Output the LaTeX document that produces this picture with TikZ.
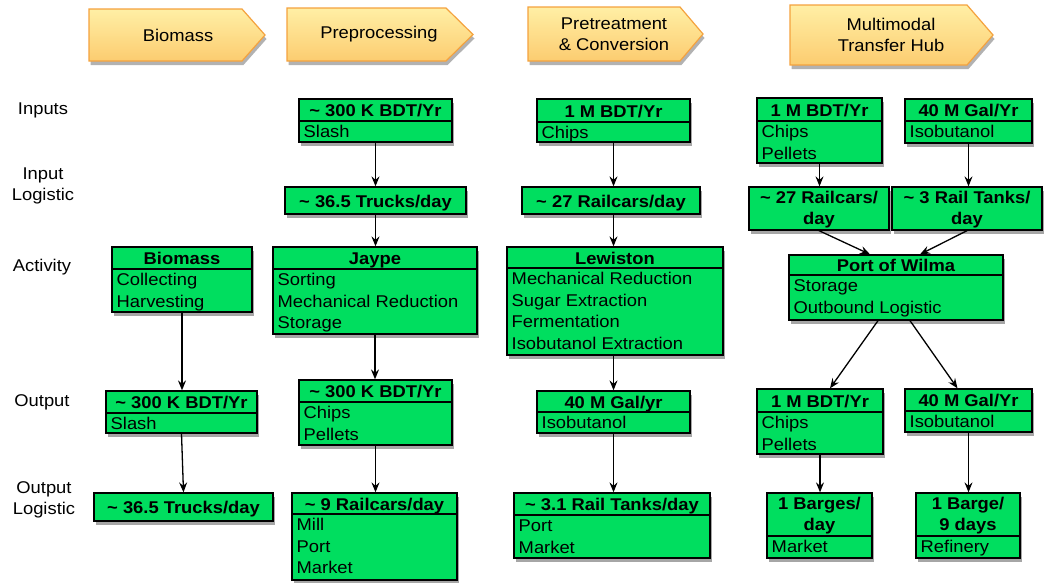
\documentclass[tikz,border=0pt]{standalone}
\usepackage{fontspec}
\setmainfont{Liberation Sans}[FakeStretch=1.08]
\usetikzlibrary{arrows.meta,shadows,fit,calc}
\definecolor{boxgreen}{RGB}{0,222,95}
\definecolor{hdrtop}{RGB}{255,239,165}
\definecolor{hdrbot}{RGB}{252,204,112}
\definecolor{hdrline}{RGB}{244,162,62}
\tikzset{
  boxs/.style={draw=black, line width=1.3pt, fill=boxgreen, inner sep=0pt,
    drop shadow={shadow xshift=1.5pt, shadow yshift=-4pt, opacity=0.35, fill=black}},
  divl/.style={line width=1.3pt},
  hdr/.style={font=\bfseries, inner sep=0pt, anchor=base},
  hdrtwo/.style={font=\bfseries, inner sep=0pt, align=center},
  itm/.style={inner sep=0pt, anchor=north west, align=left},
  lab/.style={inner sep=0pt, align=center},
  arr/.style={-{Stealth[length=10pt,width=8pt,inset=3.5pt]}, line width=1.3pt},
  stage/.style={draw=hdrline, line width=1.2pt, top color=hdrtop, bottom color=hdrbot,
    drop shadow={shadow xshift=1.5pt, shadow yshift=-4pt, opacity=0.3, fill=black}},
}
% name, x1, y1, x2, y2, ydiv, header, items
\newcommand{\dbox}[8]{%
  \node[boxs, fit={(#2,#3) (#4,#5)}] (#1) {};
  \draw[divl] (#2,#6) -- (#4,#6);
  \node[hdr] (#1h) at ({(#2+#4)/2},{(#3+#6)/2+6.5}) {#7};
  \node[itm] (#1i) at ({#2+4.5},#6) {\rule{0pt}{16.5pt}#8};
}
\newcommand{\dboxtwo}[8]{%
  \node[boxs, fit={(#2,#3) (#4,#5)}] (#1) {};
  \draw[divl] (#2,#6) -- (#4,#6);
  \node[hdrtwo] (#1h) at ({(#2+#4)/2},{(#3+#6)/2+1}) {#7};
  \node[itm] (#1i) at ({#2+4.5},#6) {\rule{0pt}{16.5pt}#8};
}
% name, x1, y1, x2, y2, text
\newcommand{\pbox}[6]{%
  \node[boxs, fit={(#2,#3) (#4,#5)}] (#1) {};
  \node[hdr] (#1h) at ({(#2+#4)/2},{(#3+#5)/2+6.5}) {#6};
}
\newcommand{\pboxtwo}[6]{%
  \node[boxs, fit={(#2,#3) (#4,#5)}] (#1) {};
  \node[hdrtwo] (#1h) at ({(#2+#4)/2},{(#3+#5)/2+1}) {#6};
}
% name, x1, y1, xbody, xtip, y2, textx, text
\newcommand{\stagearrow}[8]{%
  \path[stage] (#2,#3) -- (#4,#3) -- (#5,{(#3+#6)/2}) -- (#4,#6) -- (#2,#6) -- cycle;
  \node[lab] (#1) at (#7,{(#3+#6)/2}) {#8};
}
\begin{document}
\begin{tikzpicture}[x=1pt,y=-1pt]
\fontsize{17}{21.5}\selectfont
\useasboundingbox (0,0) rectangle (1052,582);

% stage headers
\stagearrow{sBio}{89}{9}{242}{265}{61}{178}{Biomass}
\stagearrow{sPre}{287}{8}{446}{473}{61}{379}{Preprocessing}
\stagearrow{sPtc}{528}{7}{680}{703}{61}{614}{Pretreatment\\\& Conversion}
\stagearrow{sHub}{790}{5}{967}{993}{65}{891}{Multimodal\\Transfer Hub}

% row labels
\node[lab] (lIn) at (43,110) {Inputs};
\node[lab] (lInL) at (43,186) {Input\\Logistic};
\node[lab] (lAct) at (42,267) {Activity};
\node[lab] (lOut) at (42,402) {Output};
\node[lab] (lOutL) at (44,500) {Output\\Logistic};

% Biomass column
\dbox{b4}{112}{247}{252}{312}{269}{Biomass}{Collecting\\Harvesting}
\dbox{b5}{106}{391}{257}{433}{413}{\char`\~{} 300 K BDT/Yr}{Slash}
\pbox{b6}{94}{493}{273}{521}{\char`\~{} 36.5 Trucks/day}

% Preprocessing column
\dbox{b1}{299}{99}{452}{142}{121}{\char`\~{} 300 K BDT/Yr}{Slash}
\pbox{b2}{285}{187}{466}{214}{\char`\~{} 36.5 Trucks/day}
\dbox{b3}{273}{247}{477}{334}{269}{Jaype}{Sorting\\Mechanical Reduction\\Storage}
\dbox{b7}{299}{380}{452}{445}{402}{\char`\~{} 300 K BDT/Yr}{Chips\\Pellets}
\dbox{b8}{292}{493}{457}{580}{514}{\char`\~{} 9 Railcars/day}{Mill\\Port\\Market}

% Pretreatment column
\dbox{b9}{537}{99}{690}{142}{122}{1 M BDT/Yr}{Chips}
\pbox{b10}{522}{187}{700}{214}{\char`\~{} 27 Railcars/day}
\dbox{b11}{507}{247}{723}{355}{268}{Lewiston}{Mechanical Reduction\\Sugar Extraction\\Fermentation\\Isobutanol Extraction}
\dbox{b12}{537}{391}{690}{433}{412}{40 M Gal/yr}{Isobutanol}
\dbox{b13}{514}{493}{710}{558}{515}{\char`\~{} 3.1 Rail Tanks/day}{Port\\Market}

% Hub column
\dbox{b14}{757}{98}{882}{163}{121}{1 M BDT/Yr}{Chips\\Pellets}
\dbox{b15}{905}{99}{1032}{143}{121}{40 M Gal/Yr}{Isobutanol}
\pboxtwo{b16}{749}{187}{889}{230}{\char`\~{} 27 Railcars/\\day}
\pboxtwo{b17}{892}{187}{1042}{230}{\char`\~{} 3 Rail Tanks/\\day}
\dbox{b18}{789}{255}{1003}{320}{275}{Port of Wilma}{Storage\\Outbound Logistic}
\dbox{b19}{757}{389}{883}{454}{412}{1 M BDT/Yr}{Chips\\Pellets}
\dbox{b20}{905}{389}{1032}{432}{411}{40 M Gal/Yr}{Isobutanol}
\dboxtwo{b21}{767}{493}{872}{558}{536}{1 Barges/\\day}{Market}
\dboxtwo{b22}{916}{493}{1020}{558}{536}{1 Barge/\\9 days}{Refinery}

% connectors
\draw[arr] (b4.south) -- (b4.south |- b5.north);
\draw[arr] (b5.south) -- (b6.north);
\draw[arr] (b1.south) -- (b1.south |- b2.north);
\draw[arr] (b2.south) -- (b2.south |- b3.north);
\draw[arr] (b3.south) -- (b3.south |- b7.north);
\draw[arr] (b7.south) -- (b7.south |- b8.north);
\draw[arr] (b9.south) -- (b9.south |- b10.north);
\draw[arr] (b9.south |- b10.south) -- (b9.south |- b11.north);
\draw[arr] (b9.south |- b11.south) -- (b9.south |- b12.north);
\draw[arr] (b12.south) -- (b12.south |- b13.north);
\draw[arr] (b14.south) -- (b14.south |- b16.north);
\draw[arr] (b15.south) -- (b15.south |- b17.north);
\draw[arr] (b16.south) -- ([xshift=-26pt]b18.north);
\draw[arr] (b17.south) -- ([xshift=24pt]b18.north);
\draw[arr] ([xshift=-18pt]b18.south) -- ([xshift=10pt]b19.north);
\draw[arr] ([xshift=14pt]b18.south) -- ([xshift=-11pt]b20.north);
\draw[arr] (b19.south) -- (b19.south |- b21.north);
\draw[arr] (b20.south) -- (b20.south |- b22.north);
\end{tikzpicture}
\end{document}
